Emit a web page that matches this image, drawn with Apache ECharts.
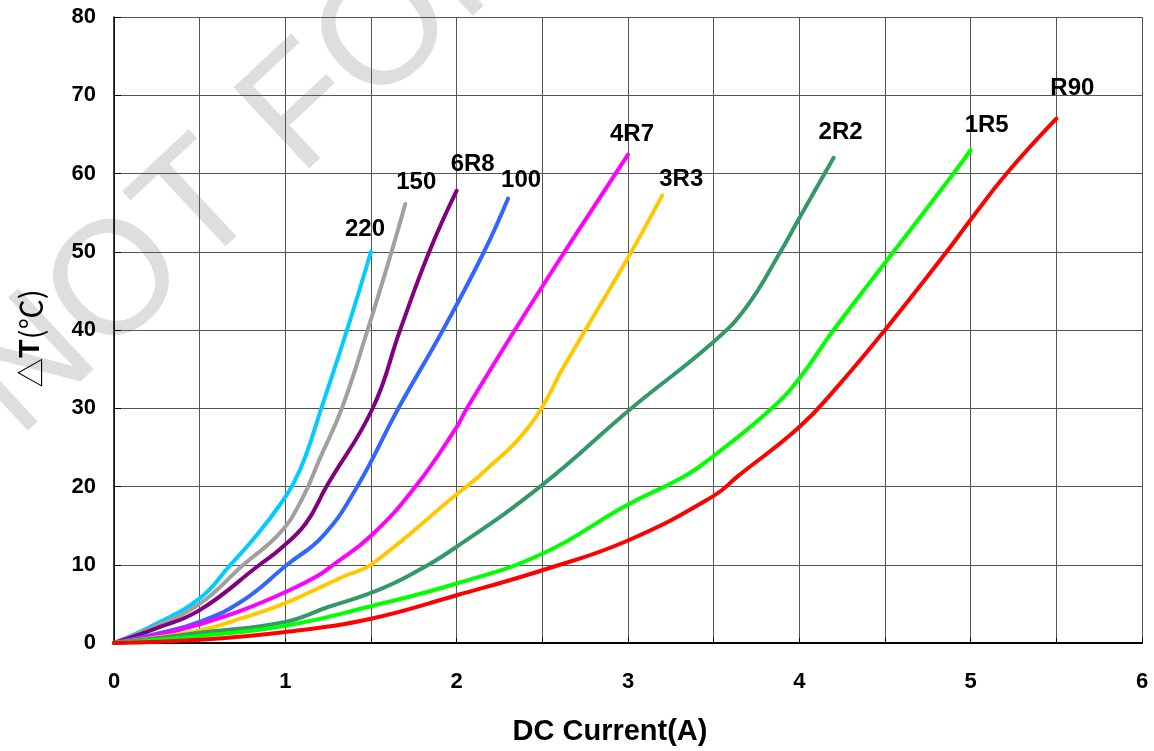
<!DOCTYPE html>
<html>
<head>
<meta charset="utf-8">
<script src="https://cdn.jsdelivr.net/npm/echarts@6/dist/echarts.min.js"></script>
<style>
html,body{margin:0;padding:0;background:#fff;}
#chart{width:1154px;height:751px;}
</style>
</head>
<body>
<div id="chart"></div>
<script>
// ---- data ----
const seriesNames = ['220', '150', '6R8', '100', '4R7', '3R3', '2R2', '1R5', 'R90'];
const xTicks = [0, 1, 2, 3, 4, 5, 6];
const yTicks = [0, 10, 20, 30, 40, 50, 60, 70, 80];

const d220 = [[0,0],[0.25,2.5],[0.5,5.7],[0.68,10],[0.83,13.7],[0.97,17.7],[1.05,20.5],[1.12,24],[1.21,30],[1.36,40],[1.5,50]];
const d150 = [[0,0],[0.25,2.2],[0.5,5.0],[0.755,10],[0.97,14.1],[1.1,18.5],[1.2,23.5],[1.33,30],[1.48,40],[1.62,50],[1.7,56.1]];
const d6R8 = [[0,0],[0.25,1.9],[0.5,4.2],[0.85,10],[0.97,12],[1.12,15.3],[1.24,20],[1.51,30],[1.67,40],[1.84,50],[2.0,57.8]];
const d100 = [[0,0],[0.25,1.2],[0.5,2.7],[0.75,5.4],[1.01,10],[1.22,13.7],[1.42,20],[1.66,30],[1.92,40],[2.16,50],[2.3,56.8]];
const d4R7 = [[0,0],[0.25,1.0],[0.5,2.4],[0.75,4.2],[1.0,6.5],[1.19,8.6],[1.28,10],[1.5,13.7],[1.76,20],[2.0,27.6],[2.06,30],[2.34,40],[2.63,50],[3.0,62.4]];
const d3R3 = [[0,0],[0.25,0.7],[0.5,1.6],[0.75,3.2],[1.0,5.1],[1.35,8.6],[1.5,10],[2.0,19],[2.13,21.3],[2.43,27.9],[2.63,35.5],[2.83,42.9],[3.02,50],[3.2,57.2]];
const d2R2 = [[0,0],[0.25,0.6],[0.5,1.3],[1.0,2.7],[1.25,4.6],[1.5,6.4],[1.72,8.6],[2.0,12.3],[2.5,20.2],[3.02,30],[3.5,38.5],[3.69,42.9],[3.89,50],[4.0,54.3],[4.2,62]];
const d1R5 = [[0,0],[0.5,0.9],[1.0,2.2],[1.5,4.7],[2.0,7.6],[2.5,11.4],[3.0,17.7],[3.33,21.3],[3.5,23.9],[3.84,30],[4.0,33.8],[4.2,40],[4.55,50],[4.9,60],[5.0,63]];
const dR90 = [[0,0],[0.5,0.4],[1.0,1.4],[1.5,3.1],[2.0,6.1],[2.5,9.3],[3.0,13.1],[3.5,18.8],[3.64,21.3],[4.0,27.6],[4.22,32.7],[4.5,40],[4.86,50],[5.0,54.1],[5.21,60],[5.5,67]];

// ---- styling ----
const seriesData = [d220, d150, d6R8, d100, d4R7, d3R3, d2R2, d1R5, dR90];
const colors = ['#00CCFF', '#A0A0A0', '#800080', '#3366FF', '#FF00FF', '#FFC800', '#339966', '#00FF00', '#FF0000'];
const labelOffsets = [[-6,-22],[11,-22],[16,-26],[13,-18],[4,-20],[19,-16],[7,-25],[16,-25],[16,-30]];
const FONT = '"Liberation Sans", Arial, sans-serif';
const CJK = '"Noto Sans CJK SC", "Liberation Sans", sans-serif';

const chart = echarts.init(document.getElementById('chart'), null, {renderer: 'canvas'});

const series = seriesNames.map((name, i) => {
  const data = seriesData[i];
  const last = data[data.length - 1];
  return {
    name: name,
    type: 'line',
    data: data,
    smooth: 0.45,
    symbol: 'none',
    z: 3 + i,
    lineStyle: {color: colors[i], width: 4, cap: 'round', join: 'round'},
    itemStyle: {color: colors[i]},
    markPoint: {
      silent: true,
      symbol: 'circle',
      symbolSize: 1,
      itemStyle: {color: 'rgba(0,0,0,0)'},
      data: [{
        coord: last,
        label: {
          show: true,
          position: 'inside',
          formatter: name,
          offset: labelOffsets[i],
          color: '#000',
          fontSize: 24,
          fontWeight: 'bold',
          fontFamily: FONT
        }
      }]
    }
  };
});

const option = {
  animation: false,
  backgroundColor: '#fff',
  graphic: {
    elements: [{
      type: 'text',
      x: -12,
      y: 407,
      rotation: 43 * Math.PI / 180,
      z: -100,
      silent: true,
      style: {
        text: 'NOT FOR REFERENCE',
        fontSize: 161,
        fontFamily: FONT,
        fill: '#dedede',
        align: 'left',
        verticalAlign: 'middle'
      }
    }]
  },
  grid: {left: 114, right: 12, top: 17, bottom: 103, containLabel: false},
  xAxis: {
    type: 'value',
    min: xTicks[0],
    max: xTicks[xTicks.length - 1],
    interval: 0.5,
    name: 'DC Current(A)',
    nameLocation: 'middle',
    nameGap: 74,
    nameTextStyle: {color: '#000', fontSize: 29, fontWeight: 'bold', fontFamily: FONT, padding: [0, 36, 0, 0]},
    axisLine: {show: true, lineStyle: {color: '#000', width: 2}},
    axisTick: {show: true, inside: true, length: 5, lineStyle: {color: '#000'}},
    axisLabel: {
      color: '#000', fontSize: 22, fontWeight: 'bold', fontFamily: FONT, margin: 28,
      formatter: v => (xTicks.indexOf(v) >= 0 ? String(v) : '')
    },
    splitLine: {show: true, lineStyle: {color: '#555', width: 1}}
  },
  yAxis: {
    type: 'value',
    min: yTicks[0],
    max: yTicks[yTicks.length - 1],
    interval: 10,
    name: '{a|△}{b|T}{a|(℃)}',
    nameLocation: 'middle',
    nameGap: 68,
    nameRotate: 90,
    nameTextStyle: {
      color: '#000', fontSize: 30, fontFamily: CJK, padding: [0, 17, 0, 0],
      rich: {
        a: {color: '#000', fontSize: 30, fontFamily: CJK, fontWeight: 'normal'},
        b: {color: '#000', fontSize: 30, fontFamily: FONT, fontWeight: 'bold'}
      }
    },
    axisLine: {show: true, lineStyle: {color: '#000', width: 1.5}},
    axisTick: {show: true, inside: true, length: 7, lineStyle: {color: '#000'}},
    axisLabel: {color: '#000', fontSize: 22, fontWeight: 'bold', fontFamily: FONT, margin: 18},
    splitLine: {show: true, lineStyle: {color: '#555', width: 1}}
  },
  series: series
};

chart.setOption(option);
</script>
</body>
</html>
